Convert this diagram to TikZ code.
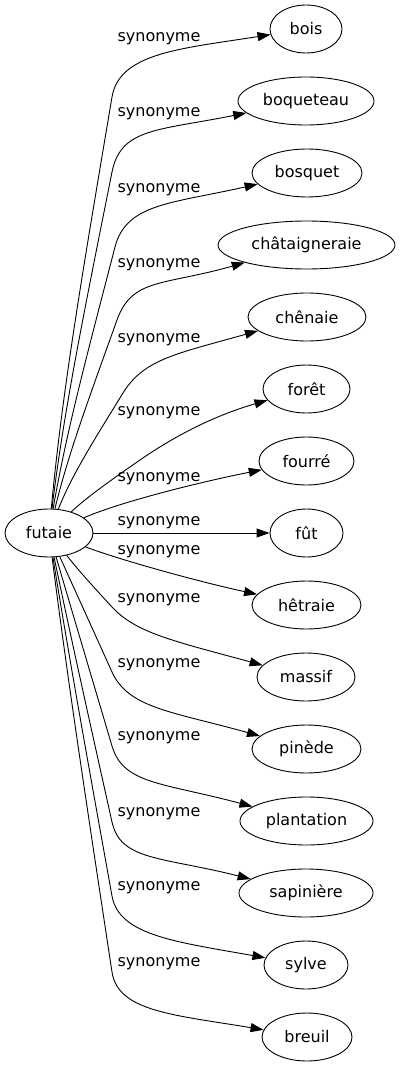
\documentclass[tikz,border=0pt]{standalone}
\usepackage{fontspec}
\setmainfont{DejaVu Sans}
\usetikzlibrary{arrows.meta,shapes.geometric}
\begin{document}
\begin{tikzpicture}[x=1pt,y=-1pt,
  every node/.style={font=\fontsize{16}{19}\selectfont},
  term/.style={draw, ellipse, line width=0.9pt, inner sep=0pt, minimum height=48pt},
  lbl/.style={anchor=base, inner sep=0pt},
  edge/.style={draw, line width=0.9pt, -{Triangle[length=13pt,width=9pt]}}]
\useasboundingbox (0,0) rectangle (400,1067);
% nodes
\node[term, minimum width=88pt]  (f)   at (49,533)    {futaie};
\node[term, minimum width=72pt]  (t1)  at (306,29)    {bois};
\node[term, minimum width=136pt] (t2)  at (306,101)   {boqueteau};
\node[term, minimum width=110pt] (t3)  at (307,173)   {bosquet};
\node[term, minimum width=177pt] (t4)  at (306.5,245) {châtaigneraie};
\node[term, minimum width=118pt] (t5)  at (307,317)   {chênaie};
\node[term, minimum width=87pt]  (t6)  at (306.5,389) {forêt};
\node[term, minimum width=95pt]  (t7)  at (306.5,461) {fourré};
\node[term, minimum width=73pt]  (t8)  at (306.5,533) {fût};
\node[term, minimum width=109pt] (t9)  at (306.5,605) {hêtraie};
\node[term, minimum width=98pt]  (t10) at (306,677)   {massif};
\node[term, minimum width=109pt] (t11) at (306.5,749) {pinède};
\node[term, minimum width=133pt] (t12) at (306.5,821) {plantation};
\node[term, minimum width=134pt] (t13) at (306,893)   {sapinière};
\node[term, minimum width=84pt]  (t14) at (306,965)   {sylve};
\node[term, minimum width=90pt]  (t15) at (307,1037)  {breuil};
% labels
\node[lbl] (l1)  at (159,41.4)  {synonyme};
\node[lbl] (l2)  at (159,116.4) {synonyme};
\node[lbl] (l3)  at (159,192.4) {synonyme};
\node[lbl] (l4)  at (159,267.4) {synonyme};
\node[lbl] (l5)  at (159,342.4) {synonyme};
\node[lbl] (l6)  at (159,415.4) {synonyme};
\node[lbl] (l7)  at (159,481.4) {synonyme};
\node[lbl] (l8)  at (159,525.4) {synonyme};
\node[lbl] (l9)  at (159,554.4) {synonyme};
\node[lbl] (l10) at (159,602.4) {synonyme};
\node[lbl] (l11) at (159,667.4) {synonyme};
\node[lbl] (l12) at (159,740.4) {synonyme};
\node[lbl] (l13) at (159,816.4) {synonyme};
\node[lbl] (l14) at (159,890.4) {synonyme};
\node[lbl] (l15) at (159,966.4) {synonyme};
% bend points
\coordinate (k1)  at (112,97);
\coordinate (k2)  at (112,172);
\coordinate (k3)  at (115,247);
\coordinate (k4)  at (117,320);
\coordinate (k5)  at (123,393);
\coordinate (k6)  at (140,460);
\coordinate (k10) at (112,607);
\coordinate (k11) at (112,672);
\coordinate (k12) at (112,746);
\coordinate (k13) at (112,822);
\coordinate (k14) at (112,896);
\coordinate (k15) at (112,972);
% edges
\draw[edge] (f) .. controls (62.6,386.8) and (84.2,262.6) .. (k1) .. controls (119.4,52.6) and (181.8,48.6) .. (t1);
\draw[edge] (f) .. controls (64,409.3) and (85,307.6) .. (k2) .. controls (120.8,127.9) and (157.6,130.7) .. (t2);
\draw[edge] (f) .. controls (66.3,431.8) and (87.6,352.6) .. (k3) .. controls (126.3,203.4) and (170.8,203.7) .. (t3);
\draw[edge] (f) .. controls (68.3,453.7) and (89.6,396.4) .. (k4) .. controls (132.2,277.7) and (163.3,285.8) .. (t4);
\draw[edge] (f) .. controls (71.5,475.6) and (94,440.2) .. (k5) .. controls (143.9,358.9) and (177.2,353.6) .. (t5);
\draw[edge] (f) .. controls (87.5,496.4) and (117.5,475.6) .. (k6) .. controls (164.7,442.9) and (205.8,418) .. (t6);
\draw[edge] (f) .. controls (120,502) and (200,482) .. (t7);
\draw[edge] (f) -- (t8);
\draw[edge] (f) .. controls (120,560) and (200,582) .. (t9);
\draw[edge] (f) .. controls (79,571) and (93.2,586.6) .. (k10) .. controls (135.7,632.7) and (172.3,640.7) .. (t10);
\draw[edge] (f) .. controls (75.6,591.5) and (91.2,626) .. (k11) .. controls (128.5,708.4) and (172.3,711.5) .. (t11);
\draw[edge] (f) .. controls (72.8,613.7) and (89.6,670.4) .. (k12) .. controls (123.4,784.4) and (162.3,782.5) .. (t12);
\draw[edge] (f) .. controls (70.7,636.5) and (88.4,716) .. (k13) .. controls (120.7,861) and (161.3,856.5) .. (t13);
\draw[edge] (f) .. controls (69.3,658.7) and (87.6,760.4) .. (k14) .. controls (119.1,935.4) and (175.6,941.8) .. (t14);
\draw[edge] (f) .. controls (67.9,681.5) and (86.8,806) .. (k15) .. controls (118,1011.6) and (173.6,1014.8) .. (t15);
\end{tikzpicture}
\end{document}
